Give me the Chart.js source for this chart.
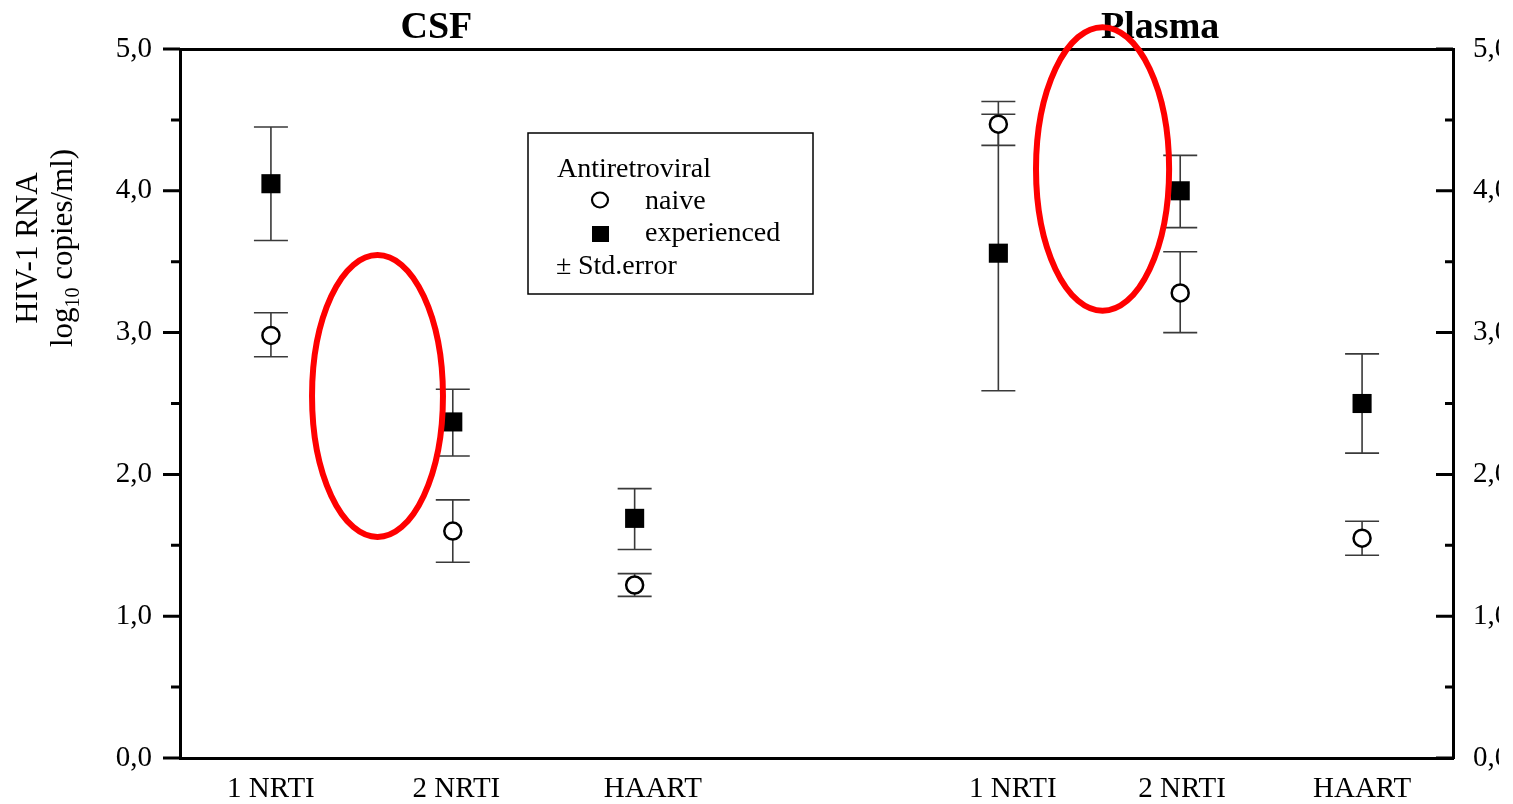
<!DOCTYPE html>
<html lang="en">
<head>
<meta charset="utf-8"/>
<title>HIV-1 RNA in CSF and Plasma</title>
<script src="https://cdn.jsdelivr.net/npm/chart.js"></script>
<style>
  html, body {
    margin: 0;
    padding: 0;
    background: #fff;
    overflow: hidden;
  }
  /* the original figure is cut just after the right-hand tick labels start */
  #wrap {
    width: 1499px;
    height: 804px;
    overflow: hidden;
  }
</style>
</head>
<body>
<div id="wrap"><canvas id="grafico" width="1540" height="804"></canvas></div>

<script>
  // categories (CSF group, then Plasma group)
  const groups = ['1 NRTI', '2 NRTI', 'HAART', '1 NRTI', '2 NRTI', 'HAART'];
  const groupX = [0.5, 1.5, 2.5, 4.5, 5.5, 6.5];
  const labelX = [0.5, 1.52, 2.6, 4.58, 5.51, 6.5];

  // log10 copies/ml, mean and +/- std.error
  const naive = [2.98, 1.60, 1.22, 4.47, 3.28, 1.55];
  const naiveLow = [2.83, 1.38, 1.14, 4.32, 3.00, 1.43];
  const naiveHigh = [3.14, 1.82, 1.30, 4.63, 3.57, 1.67];
  const experienced = [4.05, 2.37, 1.69, 3.56, 4.00, 2.50];
  const expLow = [3.65, 2.13, 1.47, 2.59, 3.74, 2.15];
  const expHigh = [4.45, 2.60, 1.90, 4.54, 4.25, 2.85];

  const panels = ['CSF', 'Plasma'];
  const panelX = [1.41, 5.39];

  // red rings drawn over the figure (data units)
  const rings = [
    { x: 1.086, y: 2.553, rx: 0.36, ry: 0.994 },
    { x: 5.073, y: 4.154, rx: 0.366, ry: 1.0 }
  ];

  const serif = "'Liberation Serif', 'Times New Roman', serif";

  const errorBars = {
    id: 'errorBars',
    beforeDatasetsDraw(chart) {
      const ctx = chart.ctx, xs = chart.scales.x, ys = chart.scales.y;
      const draw = (lo, hi) => {
        groupX.forEach((gx, i) => {
          const px = xs.getPixelForValue(gx);
          const p1 = ys.getPixelForValue(lo[i]);
          const p2 = ys.getPixelForValue(hi[i]);
          ctx.beginPath();
          ctx.moveTo(px, p1); ctx.lineTo(px, p2);
          ctx.moveTo(px - 17, p1); ctx.lineTo(px + 17, p1);
          ctx.moveTo(px - 17, p2); ctx.lineTo(px + 17, p2);
          ctx.stroke();
        });
      };
      ctx.save();
      ctx.strokeStyle = '#3a3a3a';
      ctx.lineWidth = 1.6;
      draw(naiveLow, naiveHigh);
      draw(expLow, expHigh);
      ctx.restore();
    }
  };

  const extras = {
    id: 'extras',
    afterDraw(chart) {
      const ctx = chart.ctx, ca = chart.chartArea;
      const xs = chart.scales.x, ys = chart.scales.y;
      ctx.save();

      // tick marks: outward on the left, inward on the right
      ctx.strokeStyle = '#000';
      ctx.lineWidth = 3;
      ctx.beginPath();
      for (let v = 0; v <= 5; v += 0.5) {
        const py = ys.getPixelForValue(v);
        const major = v % 1 === 0;
        ctx.moveTo(ca.left - (major ? 17 : 9), py); ctx.lineTo(ca.left, py);
        ctx.moveTo(ca.right, py); ctx.lineTo(ca.right - (major ? 17 : 8), py);
      }
      ctx.stroke();

      // y axis title
      ctx.fillStyle = '#000';
      ctx.textBaseline = 'alphabetic';
      ctx.save();
      ctx.translate(37, 248);
      ctx.rotate(-Math.PI / 2);
      ctx.font = '31px ' + serif;
      ctx.textAlign = 'center';
      ctx.fillText('HIV-1 RNA', 0, 0);
      ctx.restore();

      ctx.save();
      ctx.translate(72, 248);
      ctx.rotate(-Math.PI / 2);
      ctx.textAlign = 'left';
      const big = '31px ' + serif, small = '20px ' + serif;
      ctx.font = big;
      const w1 = ctx.measureText('log').width;
      const w3 = ctx.measureText(' copies/ml)').width;
      ctx.font = small;
      const w2 = ctx.measureText('10').width;
      let x0 = -(w1 + w2 + w3) / 2;
      ctx.font = big;
      ctx.fillText('log', x0, 0);
      ctx.font = small;
      ctx.fillText('10', x0 + w1, 7);
      ctx.font = big;
      ctx.fillText(' copies/ml)', x0 + w1 + w2, 0);
      ctx.restore();

      // panel titles
      ctx.font = 'bold 38px ' + serif;
      ctx.textAlign = 'center';
      panels.forEach((t, i) => ctx.fillText(t, xs.getPixelForValue(panelX[i]), 38));

      // legend box
      const lx = ca.left + 348, ly = ca.top + 84;
      ctx.lineWidth = 1.5;
      ctx.strokeRect(lx, ly, 285, 161);
      ctx.font = '28px ' + serif;
      ctx.textAlign = 'left';
      ctx.fillText('Antiretroviral', lx + 29, ly + 44);
      ctx.fillText('naive', lx + 117, ly + 76);
      ctx.fillText('experienced', lx + 117, ly + 108);
      ctx.fillText('\u00B1', lx + 28, ly + 141);
      ctx.fillText('Std.error', lx + 50, ly + 141);
      ctx.beginPath();
      ctx.ellipse(lx + 72, ly + 67, 8, 7.5, 0, 0, Math.PI * 2);
      ctx.lineWidth = 2.2;
      ctx.stroke();
      ctx.fillRect(lx + 64, ly + 93, 17, 16);

      // red rings
      ctx.strokeStyle = '#ff0000';
      ctx.lineWidth = 6;
      rings.forEach(r => {
        const cx = xs.getPixelForValue(r.x), cy = ys.getPixelForValue(r.y);
        const rx = Math.abs(xs.getPixelForValue(r.x + r.rx) - cx);
        const ry = Math.abs(ys.getPixelForValue(r.y + r.ry) - cy);
        ctx.beginPath();
        ctx.ellipse(cx, cy, rx, ry, 0, 0, Math.PI * 2);
        ctx.stroke();
      });
      ctx.restore();
    }
  };

  const fmt = v => Number(v).toFixed(1).replace('.', ',');

  new Chart(document.getElementById('grafico').getContext('2d'), {
    type: 'scatter',
    data: {
      datasets: [
        {
          label: 'naive',
          data: groupX.map((x, i) => ({ x, y: naive[i] })),
          pointStyle: 'circle',
          pointRadius: 8.5,
          pointBorderWidth: 2.5,
          pointBackgroundColor: '#fff',
          pointBorderColor: '#000'
        },
        {
          label: 'experienced',
          data: groupX.map((x, i) => ({ x, y: experienced[i] })),
          pointStyle: 'rect',
          pointRadius: 13.5,
          pointBorderWidth: 0,
          pointBackgroundColor: '#000',
          pointBorderColor: '#000'
        }
      ]
    },
    options: {
      responsive: false,
      animation: false,
      layout: { padding: 0 },
      plugins: { legend: { display: false }, tooltip: { enabled: false } },
      scales: {
        x: {
          type: 'linear', position: 'bottom', min: 0, max: 7,
          afterBuildTicks: s => { s.ticks = labelX.map(v => ({ value: v })); },
          afterFit: s => { s.height = 46; },
          ticks: {
            autoSkip: false, maxRotation: 0, padding: 14, color: '#000',
            font: { family: serif, size: 29 },
            callback: (v, i) => groups[i]
          },
          grid: { display: false, drawTicks: false },
          border: { display: true, color: '#000', width: 3 }
        },
        x2: {
          type: 'linear', position: 'top', min: 0, max: 7,
          afterFit: s => { s.height = 49; },
          ticks: { display: false },
          grid: { display: false, drawTicks: false },
          border: { display: true, color: '#000', width: 3 }
        },
        y: {
          type: 'linear', position: 'left', min: 0, max: 5,
          afterFit: s => { s.width = 180; },
          ticks: {
            stepSize: 1, padding: 28, color: '#000',
            font: { family: serif, size: 29 },
            callback: fmt
          },
          grid: { display: false, drawTicks: false },
          border: { display: true, color: '#000', width: 3 }
        },
        y2: {
          type: 'linear', position: 'right', min: 0, max: 5,
          afterFit: s => { s.width = 87; },
          ticks: {
            stepSize: 1, padding: 20, color: '#000',
            font: { family: serif, size: 29 },
            callback: fmt
          },
          grid: { display: false, drawTicks: false },
          border: { display: true, color: '#000', width: 3 }
        }
      }
    },
    plugins: [errorBars, extras]
  });
</script>
</body>
</html>
